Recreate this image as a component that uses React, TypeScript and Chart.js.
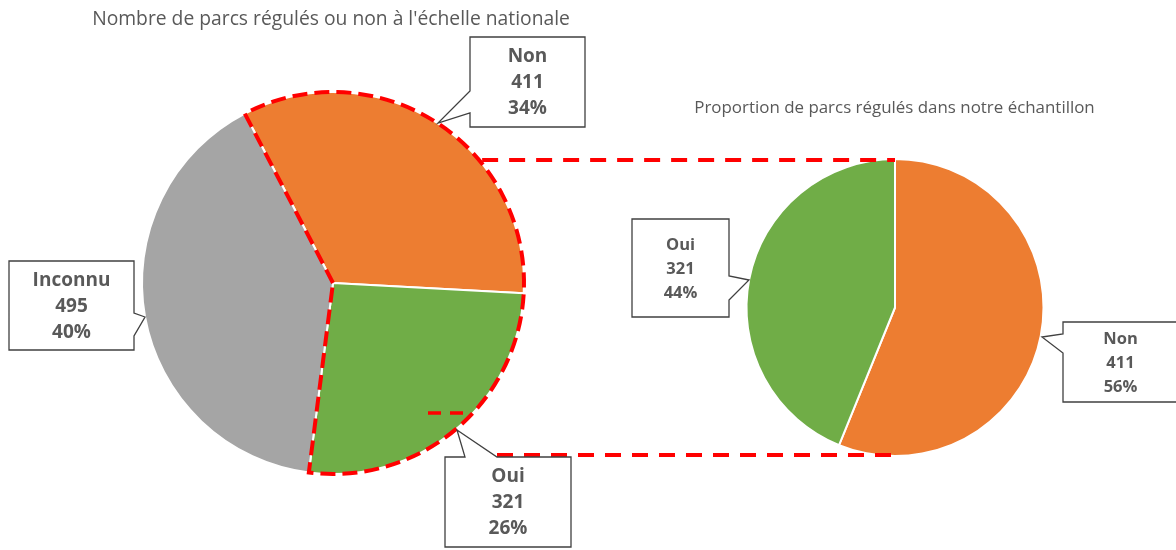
import React, { useEffect, useRef } from "react";
import { Chart, registerables } from "chart.js";

Chart.register(...registerables);

// ---------- data ----------
const leftTitle = "Nombre de parcs régulés ou non à l'échelle nationale";
const rightTitle = "Proportion de parcs régulés dans notre échantillon";

const leftCategories = ["Non", "Oui", "Inconnu"];
const leftValues = [411, 321, 495];
const leftPercents = ["34%", "26%", "40%"];

const rightCategories = ["Non", "Oui"];
const rightValues = [411, 321];
const rightPercents = ["56%", "44%"];

const leftColors = ["#ED7D31", "#70AD47", "#A5A5A5"];
const rightColors = ["#ED7D31", "#70AD47"];

// ---------- layout ----------
const W = 1176;
const H = 550;
const TEXT = "#595959";
const RED = "#FF0000";
const FONT = "'Open Sans', 'Noto Sans', sans-serif";

type Callout = {
  box: [number, number, number, number];
  side: "left" | "right" | "top";
  base: [number, number];
  tip: [number, number];
};

// one callout per category, in category order
const leftCallouts: Callout[] = [
  { box: [470, 37, 115, 90], side: "left", base: [91, 113], tip: [438, 123] },
  { box: [445, 457, 126, 90], side: "top", base: [465, 497], tip: [457, 430] },
  { box: [9, 261, 125, 89], side: "right", base: [313, 336], tip: [145, 317] },
];
const rightCallouts: Callout[] = [
  { box: [1063, 322, 115, 80], side: "left", base: [334, 353], tip: [1042, 337] },
  { box: [632, 219, 97, 98], side: "right", base: [276, 300], tip: [749, 280] },
];

function calloutPath(ctx: CanvasRenderingContext2D, c: Callout) {
  const [x, y, w, h] = c.box;
  ctx.beginPath();
  ctx.moveTo(x, y);
  if (c.side === "top") {
    ctx.lineTo(c.base[0], y);
    ctx.lineTo(c.tip[0], c.tip[1]);
    ctx.lineTo(c.base[1], y);
  }
  ctx.lineTo(x + w, y);
  if (c.side === "right") {
    ctx.lineTo(x + w, c.base[0]);
    ctx.lineTo(c.tip[0], c.tip[1]);
    ctx.lineTo(x + w, c.base[1]);
  }
  ctx.lineTo(x + w, y + h);
  ctx.lineTo(x, y + h);
  if (c.side === "left") {
    ctx.lineTo(x, c.base[1]);
    ctx.lineTo(c.tip[0], c.tip[1]);
    ctx.lineTo(x, c.base[0]);
  }
  ctx.closePath();
}

function drawCallouts(
  ctx: CanvasRenderingContext2D,
  callouts: Callout[],
  cats: string[],
  vals: number[],
  pcts: string[],
  fontSize: number,
  gap: number
) {
  callouts.forEach((c, i) => {
    ctx.save();
    calloutPath(ctx, c);
    ctx.fillStyle = "#FFFFFF";
    ctx.fill();
    ctx.strokeStyle = "#404040";
    ctx.lineWidth = 1.3;
    ctx.setLineDash([]);
    ctx.stroke();
    const [x, y, w, h] = c.box;
    const cx = x + w / 2;
    const cy = y + h / 2;
    ctx.fillStyle = TEXT;
    ctx.font = `bold ${fontSize}px ${FONT}`;
    ctx.textAlign = "center";
    ctx.textBaseline = "middle";
    const lines = [cats[i], String(vals[i]), pcts[i]];
    lines.forEach((t, k) => ctx.fillText(t, cx, cy + 1 + (k - 1) * gap));
    ctx.restore();
  });
}

function drawTitle(
  ctx: CanvasRenderingContext2D,
  text: string,
  cx: number,
  baseline: number,
  targetWidth: number
) {
  ctx.save();
  ctx.font = `16px ${FONT}`;
  const m = ctx.measureText(text).width;
  const size = (16 * targetWidth) / m;
  ctx.font = `${size}px ${FONT}`;
  ctx.fillStyle = TEXT;
  ctx.textAlign = "center";
  ctx.textBaseline = "alphabetic";
  ctx.fillText(text, cx, baseline);
  ctx.restore();
}

export default function App() {
  const leftRef = useRef<HTMLCanvasElement>(null);
  const rightRef = useRef<HTMLCanvasElement>(null);

  useEffect(() => {
    if (!leftRef.current || !rightRef.current) return;

    const rightPlugin = {
      id: "rightDecor",
      afterDatasetsDraw(chart: any) {
        const ctx = chart.ctx as CanvasRenderingContext2D;
        drawTitle(ctx, rightTitle, 894.5, 113, 401);
        drawCallouts(ctx, rightCallouts, rightCategories, rightValues, rightPercents, 16.5, 24);
      },
    };

    const rightChart = new Chart(rightRef.current, {
      type: "pie",
      data: {
        labels: rightCategories,
        datasets: [
          {
            data: rightValues,
            backgroundColor: rightColors,
            borderColor: "#FFFFFF",
            borderWidth: 2,
            radius: 148.5,
          } as any,
        ],
      },
      options: {
        responsive: false,
        animation: false,
        devicePixelRatio: 1,
        rotation: 0,
        layout: { padding: { left: 747.5, right: W - 1042.5, top: 160, bottom: H - 455 } },
        plugins: { legend: { display: false }, tooltip: { enabled: false }, title: { display: false } },
        events: [],
      },
      plugins: [rightPlugin],
    });

    const leftPlugin = {
      id: "leftDecor",
      afterDatasetsDraw(chart: any) {
        const ctx = chart.ctx as CanvasRenderingContext2D;
        const meta = chart.getDatasetMeta(0);
        const a0 = meta.data[0] as any;
        const a1 = meta.data[1] as any;
        const cx = a0.x;
        const cy = a0.y;
        const R = a0.outerRadius;

        // dashed outline around "Non" + "Oui"
        ctx.save();
        ctx.strokeStyle = RED;
        ctx.lineWidth = 4;
        ctx.setLineDash([15, 7]);
        ctx.lineJoin = "miter";
        ctx.beginPath();
        ctx.moveTo(cx, cy);
        ctx.lineTo(cx + R * Math.cos(a0.startAngle), cy + R * Math.sin(a0.startAngle));
        ctx.arc(cx, cy, R, a0.startAngle, a1.endAngle);
        ctx.closePath();
        ctx.stroke();
        ctx.restore();

        // connecting lines to the right pie
        const rMeta = rightChart.getDatasetMeta(0);
        const ra = rMeta.data[0] as any;
        const topY = ra.y - ra.outerRadius + 1;
        const botY = ra.y + ra.outerRadius - 1;
        const topX = cx + Math.sqrt(Math.max(R * R - (topY - cy) * (topY - cy), 0));
        const botX = leftCallouts[1].base[1];
        ctx.save();
        ctx.strokeStyle = RED;
        ctx.lineWidth = 4;
        ctx.setLineDash([16, 11]);
        ctx.beginPath();
        ctx.moveTo(topX + 3, topY);
        ctx.lineTo(ra.x, topY);
        ctx.moveTo(botX, botY);
        ctx.lineTo(ra.x, botY);
        ctx.stroke();
        // small stray dash inside "Oui"
        ctx.setLineDash([]);
        ctx.lineWidth = 3.5;
        ctx.beginPath();
        ctx.moveTo(428, 413);
        ctx.lineTo(441, 413);
        ctx.moveTo(450, 413);
        ctx.lineTo(463, 413);
        ctx.stroke();
        ctx.restore();

        drawTitle(ctx, leftTitle, 331, 25, 478);
        drawCallouts(ctx, leftCallouts, leftCategories, leftValues, leftPercents, 19, 26);
      },
    };

    const leftChart = new Chart(leftRef.current, {
      type: "pie",
      data: {
        labels: leftCategories,
        datasets: [
          {
            data: leftValues,
            backgroundColor: leftColors,
            borderColor: "#FFFFFF",
            borderWidth: 2,
            radius: 191,
          } as any,
        ],
      },
      options: {
        responsive: false,
        animation: false,
        devicePixelRatio: 1,
        rotation: -27.5,
        layout: { padding: { left: 143, right: W - 523, top: 93, bottom: H - 473 } },
        plugins: { legend: { display: false }, tooltip: { enabled: false }, title: { display: false } },
        events: [],
      },
      plugins: [leftPlugin],
    });

    return () => {
      leftChart.destroy();
      rightChart.destroy();
    };
  }, []);

  const canvasStyle: React.CSSProperties = {
    position: "absolute",
    left: 0,
    top: 0,
    width: W,
    height: H,
    display: "block",
  };

  return (
    <div
      style={{
        position: "absolute",
        left: 0,
        top: 0,
        width: W,
        height: H,
        background: "#FFFFFF",
        overflow: "hidden",
      }}
    >
      <canvas ref={rightRef} width={W} height={H} style={canvasStyle} />
      <canvas ref={leftRef} width={W} height={H} style={canvasStyle} />
    </div>
  );
}
